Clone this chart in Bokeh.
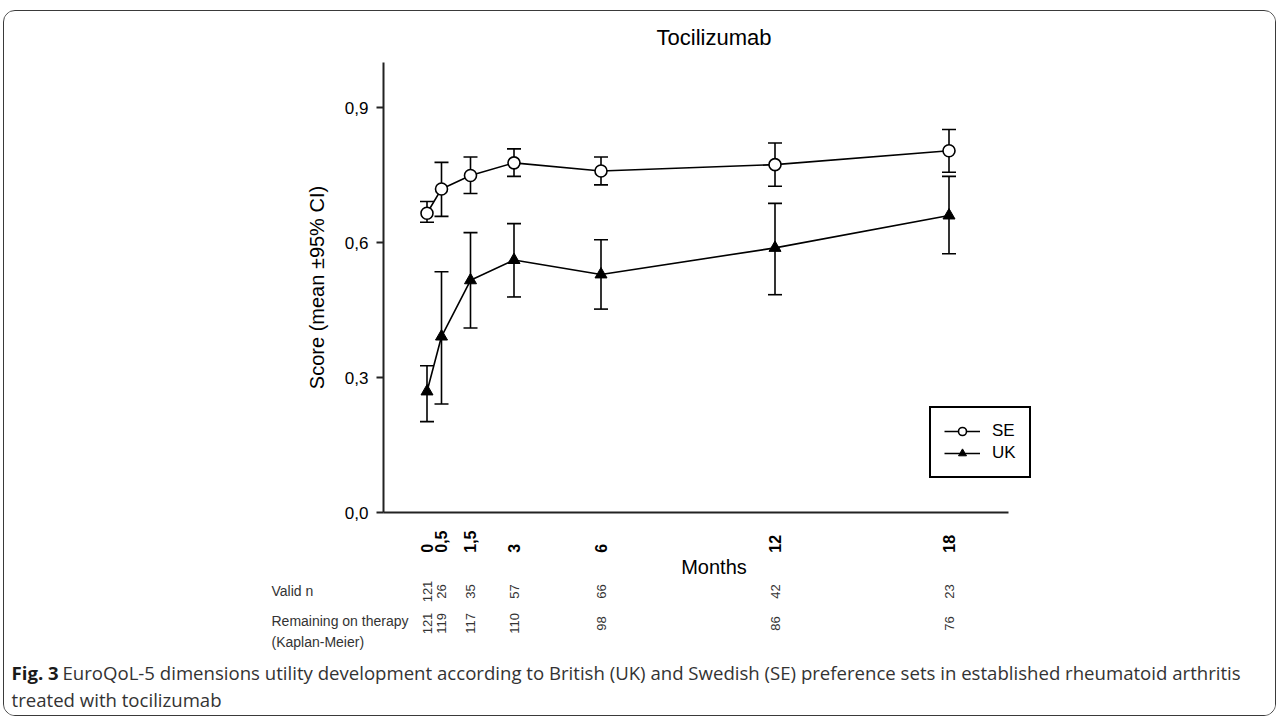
import math
from bokeh.plotting import figure
from bokeh.layouts import column
from bokeh.models import (ColumnDataSource, Whisker, TeeHead, FixedTicker, CustomJSTickFormatter,
                          Range1d, Legend, LegendItem)
from bokeh.core.properties import value
from bokeh.embed import file_html
from bokeh.resources import INLINE

# ---------------- data ----------------
chart_title = "Tocilizumab"
months = [0, 0.5, 1.5, 3, 6, 12, 18]
se_mean = [0.665, 0.719, 0.749, 0.777, 0.759, 0.773, 0.804]
se_lower = [0.645, 0.658, 0.709, 0.747, 0.728, 0.725, 0.756]
se_upper = [0.691, 0.778, 0.790, 0.808, 0.790, 0.821, 0.851]
uk_mean = [0.269, 0.391, 0.516, 0.561, 0.529, 0.588, 0.660]
uk_lower = [0.202, 0.241, 0.410, 0.479, 0.452, 0.484, 0.575]
uk_upper = [0.326, 0.535, 0.622, 0.642, 0.606, 0.687, 0.747]
valid_n = [121, 26, 35, 57, 66, 42, 23]
remaining = [121, 119, 117, 110, 98, 86, 76]
y_ticks = [0, 0.3, 0.6, 0.9]
series_names = ["SE", "UK"]
row_labels = ["Valid n", "Remaining on therapy", "(Kaplan-Meier)"]
caption_bold = "Fig. 3"
caption_line1 = ("EuroQoL-5 dimensions utility development according to British (UK) and Swedish (SE) "
                 "preference sets in established rheumatoid arthritis")
caption_line2 = "treated with tocilizumab"

# ---------------- layout (page pixels) ----------------
OX, OY = 5, 12                      # content origin inside the rounded border
CW = 1271                           # content width
FL, FR, FT, FB = 384, 1045, 63, 513 # main frame edges (page px)
AXIS_END = 1009                     # x axis line ends here (page px)
PX_PER_MONTH = 29.0
PX_ZERO = 427.5                     # page x of month 0
P1_BOTTOM = 581                     # bottom of main figure (page px)
P2_BOTTOM = 716                     # bottom of lower strip (page px)

def m_of(px):
    return (px - PX_ZERO) / PX_PER_MONTH

Y0, Y1 = 0.0, 1.0
FONT = "Liberation Sans"
CAP_FONT = "Open Sans"
CAP_SIZE = "18.6px"

p = figure(width=CW, height=P1_BOTTOM - OY,
           x_range=Range1d(m_of(FL), m_of(FR)), y_range=Range1d(Y0, Y1),
           output_backend="svg", toolbar_location=None,
           min_border_left=FL - OX, min_border_right=CW - (FR - OX),
           min_border_top=FT - OY, min_border_bottom=P1_BOTTOM - FB,
           title=chart_title)
p.frame_align = False
p.xgrid.visible = False
p.ygrid.visible = False
p.outline_line_color = None
p.background_fill_color = "white"
p.border_fill_color = "white"

p.title.align = "center"
p.title.vertical_align = "top"
p.title.text_font = FONT
p.title.text_font_size = "22px"
p.title.text_font_style = "normal"
p.title.text_color = "black"
p.title.standoff = 22

# x axis (labels padded with no-break spaces so they start at a common baseline)
xa = p.xaxis[0]
xa.ticker = FixedTicker(ticks=months)
xa.bounds = (m_of(FL), m_of(AXIS_END))
xa.formatter = CustomJSTickFormatter(code="""
    const s = String(tick).replace('.', ',');
    const pad = s.includes(',') ? 0 : (s.length == 1 ? 3 : 1);
    return s + '\\u00a0'.repeat(pad);
""")
xa.major_label_orientation = math.pi / 2
xa.major_tick_in = 0
xa.major_tick_out = 0
xa.minor_tick_line_color = None
xa.axis_line_width = 2
xa.axis_line_color = "#222222"
xa.major_label_text_font = FONT
xa.major_label_text_font_style = "bold"
xa.major_label_text_font_size = "16px"
xa.major_label_text_color = "black"
xa.major_label_standoff = 18
xa.axis_label = "Months"
xa.axis_label_text_font = FONT
xa.axis_label_text_font_size = "20px"
xa.axis_label_text_font_style = "normal"
xa.axis_label_text_color = "black"
xa.axis_label_standoff = 0

# y axis
ya = p.yaxis[0]
ya.ticker = FixedTicker(ticks=y_ticks)
ya.formatter = CustomJSTickFormatter(code="return tick.toFixed(1).replace('.', ',');")
ya.major_tick_in = 0
ya.major_tick_out = 7
ya.major_tick_line_width = 2
ya.major_tick_line_color = "#222222"
ya.minor_tick_line_color = None
ya.axis_line_width = 2
ya.axis_line_color = "#222222"
ya.major_label_text_font = FONT
ya.major_label_text_font_size = "17px"
ya.major_label_text_color = "black"
ya.major_label_standoff = 8
ya.axis_label = "Score (mean \u00b195% CI)"
ya.axis_label_text_font = FONT
ya.axis_label_text_font_size = "20px"
ya.axis_label_text_font_style = "normal"
ya.axis_label_text_color = "black"
ya.axis_label_standoff = 14

# error bars
for lo, up in ((se_lower, se_upper), (uk_lower, uk_upper)):
    src = ColumnDataSource(dict(x=months, lower=lo, upper=up))
    p.add_layout(Whisker(base="x", lower="lower", upper="upper", source=src, dimension="height",
                         line_color="black", line_width=1.6,
                         upper_head=TeeHead(size=14, line_color="black", line_width=1.6),
                         lower_head=TeeHead(size=14, line_color="black", line_width=1.6)))

# series
se_line = p.line(months, se_mean, line_color="black", line_width=1.6)
se_pts = p.scatter(months, se_mean, marker="circle", size=12, fill_color="white",
                   line_color="black", line_width=1.6)
uk_line = p.line(months, uk_mean, line_color="black", line_width=1.6)
uk_pts = p.scatter(months, uk_mean, marker="triangle", size=12, fill_color="black",
                   line_color="black", line_width=1)

legend = Legend(items=[LegendItem(label=series_names[0], renderers=[se_line, se_pts]),
                       LegendItem(label=series_names[1], renderers=[uk_line, uk_pts])],
                location=(930 - FL, FB - 479), border_line_color="black", border_line_width=2,
                border_line_alpha=1.0,
                background_fill_color="white", background_fill_alpha=1,
                label_text_font=FONT, label_text_font_size="17px", label_text_color="black",
                glyph_width=36, glyph_height=20, label_height=20, spacing=2,
                padding=13, label_standoff=12, margin=0)
p.add_layout(legend)

# ---------------- lower strip: counts, row labels, caption ----------------
p2 = figure(width=CW, height=P2_BOTTOM - P1_BOTTOM,
            x_range=Range1d(m_of(OX), m_of(OX + CW)),
            y_range=Range1d(P2_BOTTOM, P1_BOTTOM),   # page-pixel rows, top to bottom
            x_axis_type=None, y_axis_type=None,
            output_backend="svg", toolbar_location=None,
            min_border_left=0, min_border_right=0, min_border_top=0, min_border_bottom=0)
p2.frame_align = False
p2.xgrid.visible = False
p2.ygrid.visible = False
p2.outline_line_color = None
p2.background_fill_color = "white"
p2.border_fill_color = "white"

ROW_VALID, ROW_REMAIN = 592, 624
p2.text(x=months, y=[ROW_VALID] * len(months), text=[str(v) for v in valid_n],
        angle=math.pi / 2, text_align="center", text_baseline="middle",
        text_font=value(FONT), text_font_size=value("13px"), text_color="#333333")
p2.text(x=months, y=[ROW_REMAIN] * len(months), text=[str(v) for v in remaining],
        angle=math.pi / 2, text_align="center", text_baseline="middle",
        text_font=value(FONT), text_font_size=value("13px"), text_color="#333333")
p2.text(x=[m_of(272)] * 3, y=[591, 621, 642], text=row_labels,
        text_align="left", text_baseline="middle",
        text_font=value(FONT), text_font_size=value("14px"), text_color="#333333")

p2.text(x=[m_of(12)], y=[673], text=[caption_bold], text_align="left", text_baseline="alphabetic",
        text_font=value(CAP_FONT), text_font_style="bold", text_font_size=value(CAP_SIZE),
        text_color="#1a1a1a")
p2.text(x=[m_of(63)], y=[673], text=[caption_line1], text_align="left", text_baseline="alphabetic",
        text_font=value(CAP_FONT), text_font_size=value(CAP_SIZE), text_color="#333333")
p2.text(x=[m_of(12)], y=[700], text=[caption_line2], text_align="left", text_baseline="alphabetic",
        text_font=value(CAP_FONT), text_font_size=value(CAP_SIZE), text_color="#333333")

layout = column(p, p2, spacing=0, margin=(OY - 2, 0, 0, OX - 2),
                styles={"border": "1.5px solid #3a3a3a", "border-radius": "12px",
                        "overflow": "hidden", "background": "white"})

open("out.html", "w").write(file_html(layout, INLINE))
